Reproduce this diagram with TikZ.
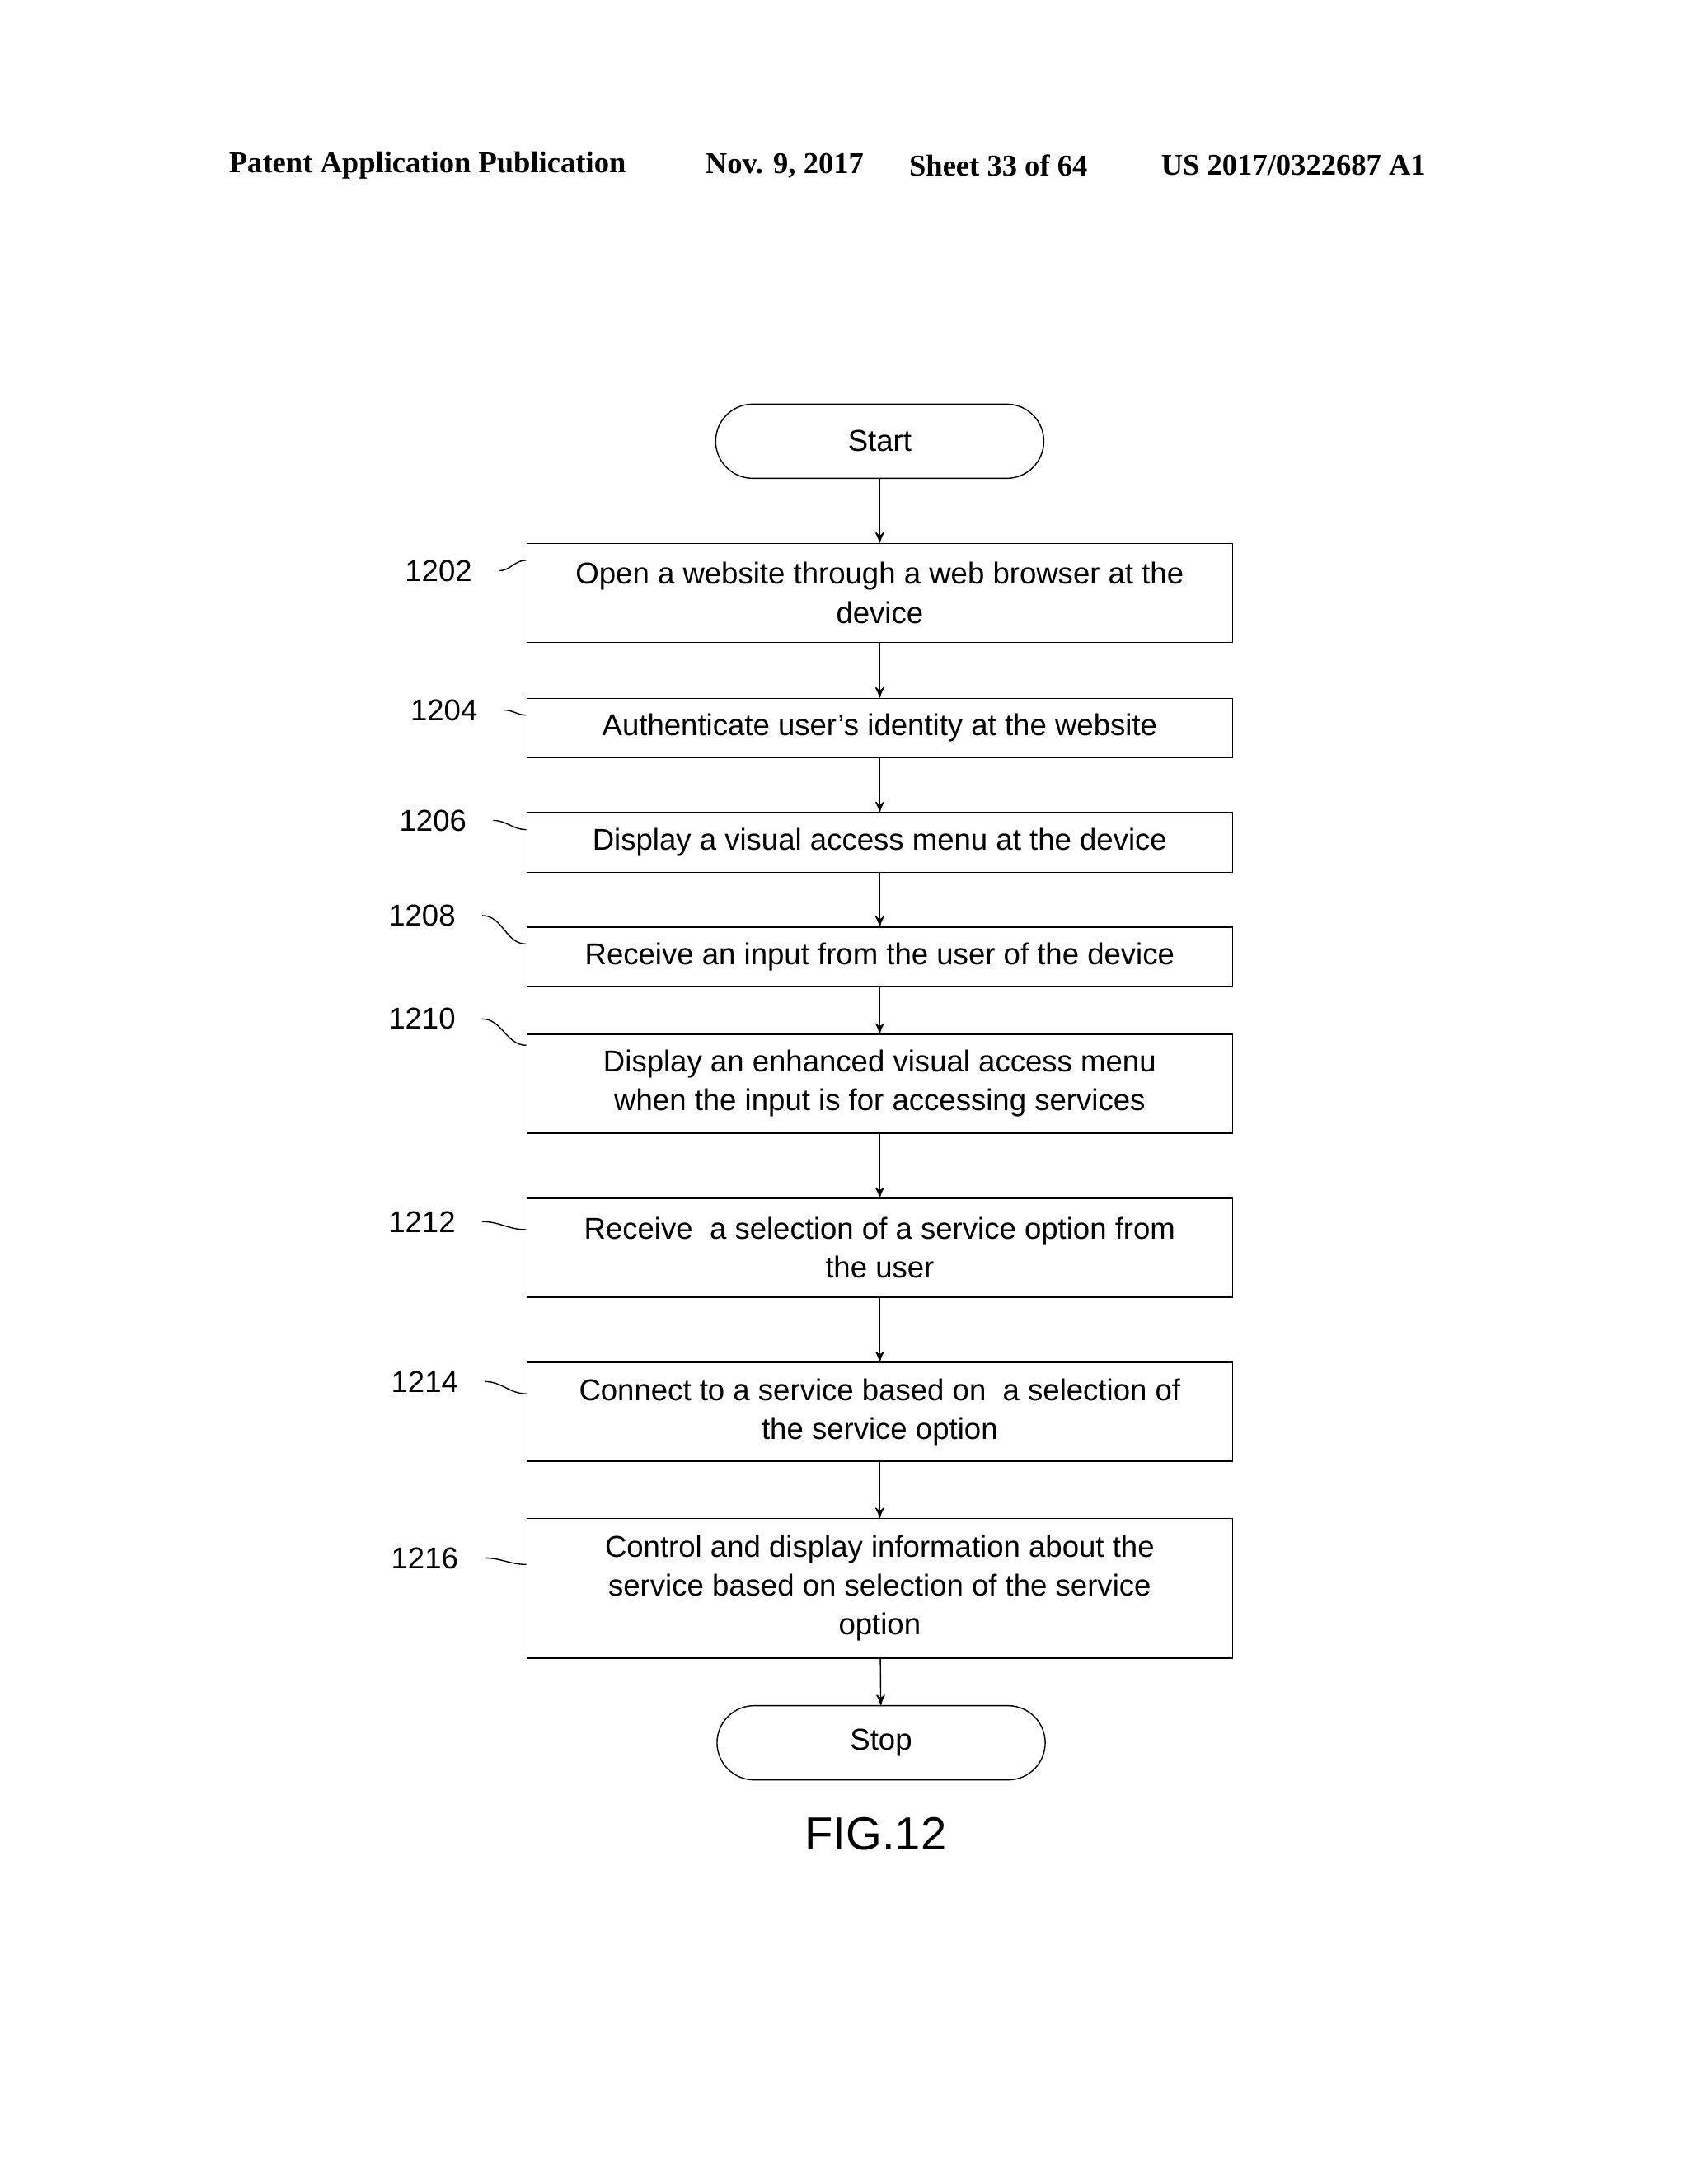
\documentclass[tikz,border=0pt]{standalone}
\usepackage{fontspec}
\setmainfont{Liberation Sans}
\newfontfamily\hdrfont{Liberation Serif}
\usetikzlibrary{positioning,shapes,arrows,calc}

\tikzset{
  proc/.style={draw, thin, minimum width=8.56cm, align=center, inner sep=2pt, font=\fontsize{10.4}{13.4}\selectfont},
  term/.style={draw, thin, rounded corners=0.45cm, minimum width=3.98cm, minimum height=0.9cm, font=\fontsize{10.4}{13.4}\selectfont},
  ref/.style={font=\fontsize{10.4}{13.4}\selectfont, inner sep=1pt},
  hdr/.style={font=\hdrfont\bfseries\fontsize{10.4}{12}\selectfont},
  flow/.style={->, thin, >=stealth'},
  tail/.style={thin}
}

\begin{document}
\begin{tikzpicture}[x=0.01673cm, y=-0.01673cm]
\useasboundingbox (0,0) rectangle (1224,1584);

% Header
\node[hdr] (h1) at (310,120) {Patent Application Publication};
\node[hdr] (h2) at (569,120) {Nov. 9, 2017};
\node[hdr] (h3) at (724,120) {Sheet 33 of 64};
\node[hdr] (h4) at (938,120) {US 2017/0322687 A1};

% Terminals
\node[term] (start) at (638,320) {Start};
\node[term] (stop) at (639,1264) {Stop};

% Steps
\node[proc, minimum height=1.2cm] (s1202) at (638,430) {Open a website through a web browser at the\\device};
\node[proc, minimum height=0.72cm] (s1204) at (638,528) {Authenticate user's identity at the website};
\node[proc, minimum height=0.72cm] (s1206) at (638,611) {Display a visual access menu at the device};
\node[proc, minimum height=0.72cm] (s1208) at (638,694) {Receive an input from the user of the device};
\node[proc, minimum height=1.2cm] (s1210) at (638,786) {Display an enhanced visual access menu\\when the input is for accessing services};
\node[proc, minimum height=1.2cm] (s1212) at (638,905) {Receive\ \ a selection of a service option from\\the user};
\node[proc, minimum height=1.2cm] (s1214) at (638,1024) {Connect to a service based on\ \ a selection of\\the service option};
\node[proc, minimum height=1.69cm] (s1216) at (638,1152) {Control and display information about the\\service based on selection of the service\\option};

% Reference numerals
\node[ref] (l1202) at (318,414) {1202};
\node[ref] (l1204) at (322,515) {1204};
\node[ref] (l1206) at (314,595) {1206};
\node[ref] (l1208) at (306,664) {1208};
\node[ref] (l1210) at (306,739) {1210};
\node[ref] (l1212) at (306,886) {1212};
\node[ref] (l1214) at (308,1002) {1214};
\node[ref] (l1216) at (308,1130) {1216};

\draw[tail] ([xshift=8pt]l1202.east) to[out=0,in=180] ([yshift=-6pt]s1202.north west);
\draw[tail] ([xshift=8pt]l1204.east) to[out=0,in=180] ([yshift=-6pt]s1204.north west);
\draw[tail] ([xshift=8pt]l1206.east) to[out=0,in=180] ([yshift=-6pt]s1206.north west);
\draw[tail] ([xshift=8pt]l1208.east) to[out=0,in=180] ([yshift=-6pt]s1208.north west);
\draw[tail] ([xshift=8pt]l1210.east) to[out=0,in=180] ([yshift=-4pt]s1210.north west);
\draw[tail] ([xshift=8pt]l1212.east) to[out=0,in=180] ([yshift=-11pt]s1212.north west);
\draw[tail] ([xshift=8pt]l1214.east) to[out=0,in=180] ([yshift=-11pt]s1214.north west);
\draw[tail] ([xshift=8pt]l1216.east) to[out=0,in=180] ([yshift=-16pt]s1216.north west);

% Flow
\draw[flow] (start) -- (s1202);
\draw[flow] (s1202) -- (s1204);
\draw[flow] (s1204) -- (s1206);
\draw[flow] (s1206) -- (s1208);
\draw[flow] (s1208) -- (s1210);
\draw[flow] (s1210) -- (s1212);
\draw[flow] (s1212) -- (s1214);
\draw[flow] (s1214) -- (s1216);
\draw[flow] (s1216) -- (stop);

% Caption
\node[font=\fontsize{16}{19}\selectfont] (fig) at (635,1330) {FIG.12};
\end{tikzpicture}
\end{document}
